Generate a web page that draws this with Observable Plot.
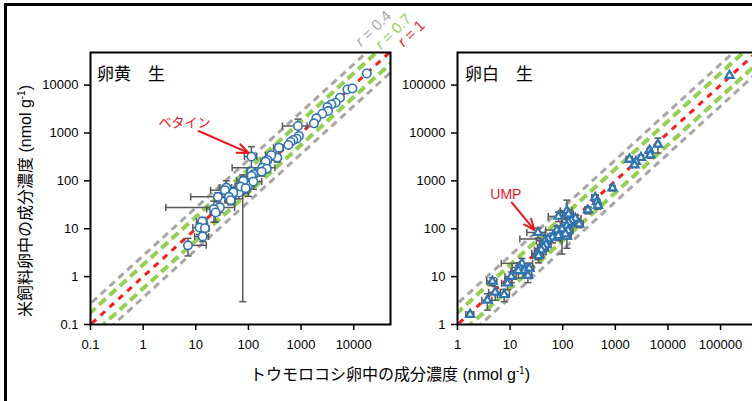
<!DOCTYPE html>
<html><head><meta charset="utf-8">
<script src="https://cdn.jsdelivr.net/npm/d3@7"></script>
<script src="https://cdn.jsdelivr.net/npm/@observablehq/plot@0.6"></script>
<style>
body{margin:0;background:#fff;}
#wrap{position:relative;width:752px;height:401px;overflow:hidden;background:#fff;font-family:"Liberation Sans","Noto Sans CJK JP",sans-serif;color:#000;}
#wrap svg{position:absolute;left:0;top:0;max-width:none;}
.border{position:absolute;left:4px;top:3px;width:900px;height:600px;border-top:3px solid #000;border-left:3px solid #000;}
.t{position:absolute;white-space:nowrap;line-height:1;}
.rl{font-size:15px;transform:translate(-50%,-50%) rotate(-44deg);}
sup{font-size:10px;vertical-align:6px;}
</style></head>
<body><div id="wrap"><div class="border"></div></div>
<script>
// ---- data: egg yolk (卵黄 生) ----
const yolkCorn   = [17700,7590,9440,5490,4550,3770,3160,3250,2540,1950,1760,873,912,825,714,634,574,380,354,272,229,212,184,222,178,114,114,124,115,99.6,80,124,78,65.9,51.6,38,35.7,42.6,45.9,26.3,28.7,22.1,23.8,13.3,11.8,14.9,13.5,7.1,71,88.5];
const yolkRice   = [17500,8130,8540,5440,4280,3960,3480,2870,2520,2020,1590,1400,866,761,715,649,562,494,306,343,274,252,189,180,156,321,156,138,127,82.5,100,96.7,67,57.1,57.1,72.5,64,46.4,39.6,46.4,27.8,25.7,21.9,14.2,10.6,10.3,6.9,4.5,76,70.5];
const yolkCornSD = [800,500,600,400,300,300,250,200,200,150,150,430,80,70,60,60,50,80,50,60,40,40,135,40,30,30,20,25,20,30,20,55,25,15,20,10,16.6,15,10,18.3,26,6,5,3,3,3,4,8.7,15,20];
const yolkRiceSD = [900,600,500,400,300,250,300,200,200,150,120,550,80,70,60,50,50,70,60,50,40,40,40,30,30,198,30,30,20,35,25,30,66.7,15,15,28,12,12,8,10,6,12,8,3,3,3,1.5,1.8,15,15];
// ---- data: egg white (卵白 生) ----
const whiteCorn   = [148000,6460,4470,4610,3070,2460,2320,1860,885,415,447,467,301,206,173,145,120,83,129,120,96.6,126,120,77.6,64,52.3,46.5,48,43.1,39,33.8,34.7,33.8,16.8,14.9,14.4,18.8,23.1,21.8,10.5,8.9,4.6,5.2,7.7,3.7,1.74,83,112,129];
const whiteRice   = [159000,5820,4360,3480,3060,2520,2150,2830,705,449,365,306,245,125,164,147,237,181,135,115,98.6,90.9,69.2,94,65.9,61,56.2,46.4,40.8,36,30.6,27.4,83.7,18.9,15.6,13.3,13.3,14.9,10.5,10,7.3,8.0,4.7,4.2,3.2,1.62,71.5,77.5,202];
const whiteCornSD = [5000,500,300,400,300,200,200,250,80,60,50,60,40,40,50,20,30,30,30,30,20,30,25,30,20,37,15,12,10,10,8,8,13,10,4,4,4,5,4,2.5,2,1.0,1.3,2,0.8,0.3,20,25,30];
const whiteRiceSD = [6000,2000,300,500,300,300,200,350,80,60,50,50,40,20,30,30,159,40,30,40,69,30,30,20,15,12,15,12,12,10,8,8,20,5,4,4,4,4,3,2.5,2,1.5,1.5,1.2,1.2,0.2,15,15,40];
// ---- axes ----
const yolkXDomain = [0.1, 50000], yolkYDomain = [0.1, 48000];
const whiteXDomain = [1, 575000], whiteYDomain = [1, 480000];
const yolkTicks = [0.1, 1, 10, 100, 1000, 10000];
const whiteTicks = [1, 10, 100, 1000, 10000, 100000];
// ---- reference lines: ratio factors ----
const refLines = [
  {label: "0.4", factor: 2.74, color: "#a6a6a6", width: 3, dash: "7,5"},
  {label: "0.7", factor: 1.77, color: "#92d050", width: 4, dash: "9,5"},
  {label: "1",   factor: 1,    color: "#ff1a1a", width: 3, dash: "6,6"}
];
// ---- annotations (data units) ----
const yolkNote = [{text: "ベタイン", x: 6.1, y: 1640, ax1: 11.3, ay1: 1100, ax2: 101, ay2: 383}];
const whiteNote = [{text: "UMP", x: 8.3, y: 511, ax1: 10.8, ay1: 353, ax2: 29.1, ay2: 94}];

const blue = "#2E75B6", errColor = "#595959", noteColor = "#f0141e";
const vSym = {draw(ctx, size){const h = Math.sqrt(size/Math.PI); ctx.moveTo(0,-h); ctx.lineTo(0,h);}};
const hSym = {draw(ctx, size){const h = Math.sqrt(size/Math.PI); ctx.moveTo(-h,0); ctx.lineTo(h,0);}};

function rows(xs, ys, xsd, ysd){ return xs.map((x,i)=>({x, y: ys[i], xsd: xsd[i], ysd: ysd[i]})); }

function panel(o){
  const data = o.data;
  const lo = (v,s) => v - s > 0 ? v - s : v;
  const marks = [];
  for (const r of refLines) {
    const fs = r.factor === 1 ? [1] : [r.factor, 1/r.factor];
    for (const f of fs) {
      marks.push(Plot.link([f], {
        x1: o.xDomain[0]/100, y1: d => d*o.xDomain[0]/100,
        x2: o.xDomain[1]*100, y2: d => d*o.xDomain[1]*100,
        stroke: r.color, strokeWidth: r.width, strokeDasharray: r.dash, clip: true
      }));
    }
  }
  // error bars
  marks.push(Plot.link(data, {x1: d => lo(d.x,d.xsd), x2: d => d.x + d.xsd, y1: "y", y2: "y", stroke: errColor, strokeWidth: 1.5, clip: true}));
  marks.push(Plot.link(data, {x1: "x", x2: "x", y1: d => lo(d.y,d.ysd), y2: d => d.y + d.ysd, stroke: errColor, strokeWidth: 1.5, clip: true}));
  marks.push(Plot.dot(data.filter(d => d.x - d.xsd > 0), {x: d => d.x - d.xsd, y: "y", symbol: vSym, r: 3.5, fill: "none", stroke: errColor, strokeWidth: 1.5}));
  marks.push(Plot.dot(data, {x: d => d.x + d.xsd, y: "y", symbol: vSym, r: 3.5, fill: "none", stroke: errColor, strokeWidth: 1.5}));
  marks.push(Plot.dot(data.filter(d => d.y - d.ysd > 0), {x: "x", y: d => d.y - d.ysd, symbol: hSym, r: 3.5, fill: "none", stroke: errColor, strokeWidth: 1.5}));
  marks.push(Plot.dot(data, {x: "x", y: d => d.y + d.ysd, symbol: hSym, r: 3.5, fill: "none", stroke: errColor, strokeWidth: 1.5}));
  // points
  if (o.symbol === "circle") marks.push(Plot.dot(data, {x: "x", y: "y", r: 4.2, fill: "white", stroke: blue, strokeWidth: 1.6}));
  else marks.push(Plot.dot(data, {x: "x", y: "y", symbol: "triangle", r: 3, fill: "white", stroke: blue, strokeWidth: 2.2}));
  // annotation
  marks.push(Plot.arrow(o.note, {x1: "ax1", y1: "ay1", x2: "ax2", y2: "ay2", stroke: noteColor, strokeWidth: 2, headLength: 9, headAngle: 45}));
  marks.push(Plot.text(o.note, {x: "x", y: "y", text: "text", fill: noteColor, fontSize: o.noteSize, fontFamily: "Liberation Sans, Noto Sans CJK JP"}));
  // frame + axes
  marks.push(Plot.frame({stroke: "#000", strokeWidth: 2}));
  marks.push(Plot.axisX(o.ticks, {tickSize: 6, tickPadding: 9, tickFormat: d => `${d}`, fontSize: 13, stroke: "#000", strokeWidth: 1.5, label: null}));
  marks.push(Plot.axisY(o.ticks, {tickSize: 6, tickPadding: 6, tickFormat: d => `${d}`, fontSize: 13, stroke: "#000", strokeWidth: 1.5, label: null}));
  return Plot.plot({
    width: o.width, height: 401,
    marginLeft: o.marginLeft, marginRight: o.marginRight, marginTop: 52, marginBottom: 77,
    x: {type: "log", domain: o.xDomain},
    y: {type: "log", domain: o.yDomain},
    style: {background: "transparent", fontFamily: "Liberation Sans, Noto Sans CJK JP", fontSize: "13px", color: "#000", overflow: "visible"},
    marks
  });
}

const wrap = document.getElementById("wrap");
wrap.appendChild(panel({data: rows(yolkCorn, yolkRice, yolkCornSD, yolkRiceSD), xDomain: yolkXDomain, yDomain: yolkYDomain, ticks: yolkTicks, width: 752, marginLeft: 90, marginRight: 362, symbol: "circle", note: yolkNote, noteSize: 13}));
wrap.appendChild(panel({data: rows(whiteCorn, whiteRice, whiteCornSD, whiteRiceSD), xDomain: whiteXDomain, yDomain: whiteYDomain, ticks: whiteTicks, width: 800, marginLeft: 457, marginRight: 40, symbol: "triangle", note: whiteNote, noteSize: 14}));

function addText(html, css, cls){ const d = document.createElement("div"); d.className = "t " + (cls||""); d.innerHTML = html; Object.assign(d.style, css); wrap.appendChild(d); }
addText("卵黄　生", {left: "97px", top: "72px", fontSize: "17px", transform: "translateY(-50%)", fontFamily: "Noto Sans CJK JP"});
addText("卵白　生", {left: "465px", top: "72px", fontSize: "17px", transform: "translateY(-50%)", fontFamily: "Noto Sans CJK JP"});
addText("米飼料卵中の成分濃度 (nmol g<sup>-1</sup>)", {left: "25px", top: "201px", fontSize: "16px", transform: "translate(-50%,-50%) rotate(-90deg)"});
addText("トウモロコシ卵中の成分濃度 (nmol g<sup>-1</sup>)", {left: "390px", top: "374px", fontSize: "16px", transform: "translate(-50%,-50%)"});
const rPos = [[373,28],[393,31],[411,33]];
refLines.forEach((r,i) => addText(`<i>r</i> = ${r.label}`, {left: rPos[i][0]+"px", top: rPos[i][1]+"px", color: r.color}, "rl"));
</script></body></html>
